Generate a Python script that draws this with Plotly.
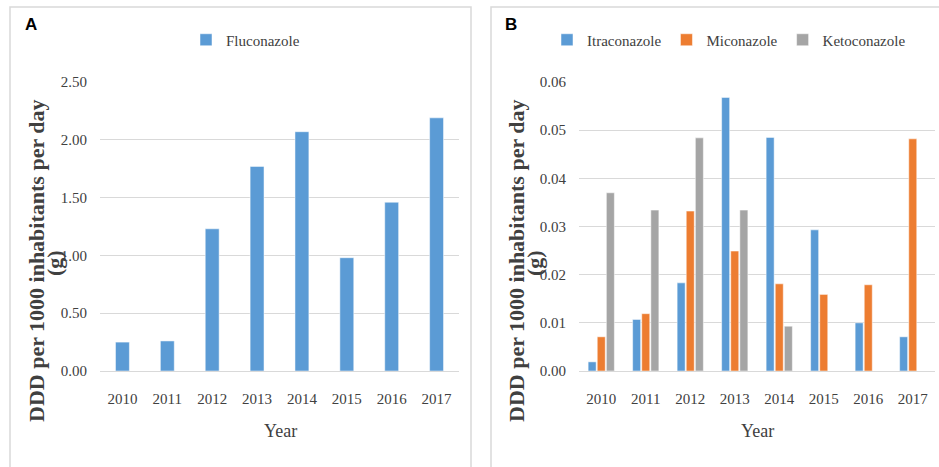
import plotly.graph_objects as go

years = ["2010", "2011", "2012", "2013", "2014", "2015", "2016", "2017"]
fluconazole = [0.25, 0.26, 1.23, 1.77, 2.07, 0.98, 1.46, 2.19]
itraconazole = [0.0019, 0.0107, 0.0183, 0.0568, 0.0485, 0.0293, 0.0100, 0.0071]
miconazole = [0.0071, 0.0119, 0.0332, 0.0249, 0.0181, 0.0159, 0.0179, 0.0482]
ketoconazole = [0.0370, 0.0334, 0.0484, 0.0334, 0.0093, None, None, None]

ytick_a = [0, 0.5, 1.0, 1.5, 2.0, 2.5]
ytick_b = [0, 0.01, 0.02, 0.03, 0.04, 0.05, 0.06]

W, H = 939, 467
BLUE, ORANGE, GRAY = "#5B9BD5", "#ED7D31", "#A5A5A5"
TXT = "#404040"
SERIF = "Liberation Serif, Times New Roman, serif"

def px(x):
    return x / W

def py(y):
    return 1 - y / H

fig = go.Figure()

fig.add_trace(go.Bar(x=years, y=fluconazole, name="Fluconazole", marker_color=BLUE,
                     marker_line=dict(color="white", width=0.5),
                     width=0.31, xaxis="x", yaxis="y", legend="legend"))
fig.add_trace(go.Bar(x=years, y=itraconazole, name="Itraconazole", marker_color=BLUE,
                     marker_line=dict(color="white", width=0.5),
                     xaxis="x2", yaxis="y2", legend="legend2"))
fig.add_trace(go.Bar(x=years, y=miconazole, name="Miconazole", marker_color=ORANGE,
                     marker_line=dict(color="white", width=0.5),
                     xaxis="x2", yaxis="y2", legend="legend2"))
fig.add_trace(go.Bar(x=years, y=ketoconazole, name="Ketoconazole", marker_color=GRAY,
                     marker_line=dict(color="white", width=0.5),
                     xaxis="x2", yaxis="y2", legend="legend2"))

tickfont = dict(family=SERIF, size=15, color=TXT)
ydom = [py(371), py(82)]

common_x = dict(type="category", showgrid=False, showline=True, linecolor="#d9d9d9",
                linewidth=1, ticks="", tickfont=tickfont, ticklabelstandoff=14,
                automargin=False)
common_y = dict(showgrid=True, gridcolor="#d9d9d9", gridwidth=1, zeroline=False,
                showline=False, ticks="", tickfont=tickfont, ticklabelstandoff=12,
                domain=ydom, automargin=False)

legfont = dict(family=SERIF, size=15, color=TXT)

fig.update_layout(
    width=W, height=H,
    margin=dict(l=0, r=0, t=0, b=0, pad=0, autoexpand=False),
    paper_bgcolor="white", plot_bgcolor="white",
    barmode="group", bargap=0.386, bargroupgap=0.12,
    xaxis=dict(domain=[px(100), px(459)], anchor="y", **common_x),
    yaxis=dict(range=[0, 2.5], tickvals=ytick_a, ticktext=[f"{v:.2f}" for v in ytick_a],
               anchor="x", **common_y),
    xaxis2=dict(domain=[px(579), px(935)], anchor="y2", **common_x),
    yaxis2=dict(range=[0, 0.06], tickvals=ytick_b, ticktext=[f"{v:.2f}" for v in ytick_b],
                anchor="x2", **common_y),
    legend=dict(orientation="h", x=px(186), xanchor="left", y=py(40), yanchor="middle",
                font=legfont, bgcolor="rgba(0,0,0,0)"),
    legend2=dict(orientation="h", x=px(547), xanchor="left", y=py(40), yanchor="middle",
                 font=legfont, bgcolor="rgba(0,0,0,0)"),
    showlegend=True,
)

# panel borders
fig.add_shape(type="rect", xref="paper", yref="paper", x0=px(10), x1=px(471),
              y0=py(475), y1=py(7), line=dict(color="#d9d9d9", width=1.5))
fig.add_shape(type="rect", xref="paper", yref="paper", x0=px(491), x1=px(950),
              y0=py(475), y1=py(7), line=dict(color="#d9d9d9", width=1.5))

ann_font_title = dict(family=SERIF, size=22, color=TXT, weight="bold")
for cx, lx in [(36, 54), (516, 534)]:
    fig.add_annotation(text="DDD per 1000 inhabitants per day", textangle=-90,
                       xref="paper", yref="paper", x=px(cx), y=py(261),
                       xanchor="center", yanchor="middle", showarrow=False, font=ann_font_title)
    fig.add_annotation(text="(g)", textangle=-90, xref="paper", yref="paper",
                       x=px(lx), y=py(263), xanchor="center", yanchor="middle",
                       showarrow=False, font=ann_font_title)

for cx in [280, 757]:
    fig.add_annotation(text="Year", xref="paper", yref="paper", x=px(cx), y=py(431),
                       xanchor="center", yanchor="middle", showarrow=False,
                       font=dict(family=SERIF, size=18, color=TXT))

for lbl, cx in [("A", 31), ("B", 511)]:
    fig.add_annotation(text=lbl, xref="paper", yref="paper", x=px(cx), y=py(25),
                       xanchor="center", yanchor="middle", showarrow=False,
                       font=dict(family="Liberation Sans, Arial, sans-serif", size=17,
                                 color="black", weight="bold"))

post = ("document.documentElement.style.margin='0';"
        "document.documentElement.style.overflow='hidden';"
        "document.body.style.margin='0';document.body.style.overflow='hidden';"
        "var gd=document.getElementById('{plot_id}');"
        "gd.style.position='fixed';gd.style.top='0px';gd.style.left='0px';")

fig.write_html("out.html", config={"displayModeBar": False}, post_script=post)
